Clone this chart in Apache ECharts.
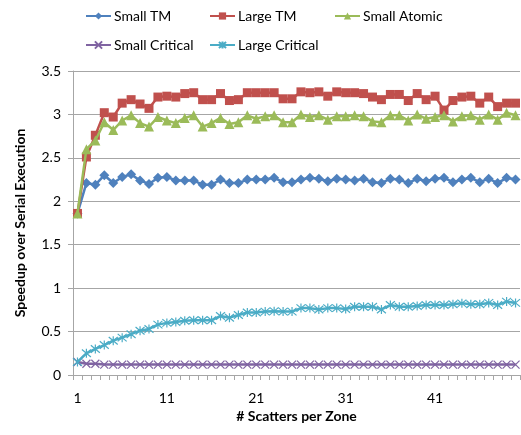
<!DOCTYPE html>
<html>
<head>
<meta charset="utf-8">
<script src="https://cdn.jsdelivr.net/npm/echarts@6/dist/echarts.min.js"></script>
<style>html,body{margin:0;padding:0;background:#fff}#c{width:521px;height:435px}</style>
</head>
<body>
<div id="c"></div>
<script>
var categories = [];
for (var i = 1; i <= 50; i++) categories.push(String(i));

var smallTM = [1.86,2.21,2.19,2.30,2.21,2.28,2.31,2.24,2.20,2.27,2.28,2.24,2.24,2.24,2.19,2.19,2.25,2.21,2.21,2.25,2.25,2.25,2.27,2.22,2.22,2.25,2.27,2.26,2.23,2.26,2.25,2.24,2.26,2.22,2.21,2.26,2.25,2.21,2.26,2.23,2.26,2.27,2.22,2.25,2.27,2.22,2.26,2.21,2.27,2.25];
var largeTM = [1.86,2.51,2.76,3.02,2.97,3.13,3.17,3.12,3.07,3.20,3.21,3.20,3.24,3.25,3.17,3.17,3.24,3.16,3.17,3.25,3.25,3.25,3.25,3.18,3.18,3.26,3.25,3.26,3.21,3.26,3.25,3.25,3.24,3.20,3.17,3.23,3.23,3.16,3.24,3.17,3.21,3.05,3.16,3.20,3.21,3.13,3.20,3.09,3.13,3.13];
var smallAtomic = [1.86,2.60,2.70,2.91,2.82,2.93,2.99,2.90,2.86,2.97,2.93,2.90,2.96,2.99,2.86,2.90,2.96,2.89,2.91,2.99,2.95,2.98,2.99,2.91,2.91,3.00,2.97,2.99,2.94,2.98,2.98,2.99,2.98,2.92,2.91,2.99,2.99,2.93,3.00,2.95,2.97,2.99,2.92,2.98,2.99,2.94,3.00,2.94,3.02,2.99];
var smallCritical = [0.15,0.13,0.13,0.12,0.12,0.12,0.12,0.12,0.12,0.12,0.12,0.12,0.12,0.12,0.12,0.12,0.12,0.12,0.12,0.12,0.12,0.12,0.12,0.12,0.12,0.12,0.12,0.12,0.12,0.12,0.12,0.12,0.12,0.12,0.12,0.12,0.12,0.12,0.12,0.12,0.12,0.12,0.12,0.12,0.12,0.12,0.12,0.12,0.12,0.12];
var largeCritical = [0.15,0.25,0.30,0.345,0.395,0.43,0.47,0.51,0.53,0.58,0.60,0.61,0.625,0.63,0.63,0.63,0.68,0.66,0.69,0.72,0.72,0.73,0.735,0.73,0.73,0.77,0.77,0.755,0.77,0.77,0.76,0.785,0.785,0.785,0.755,0.805,0.785,0.785,0.795,0.805,0.805,0.805,0.815,0.825,0.815,0.815,0.83,0.805,0.845,0.83];

var seriesNames = ['Small TM','Large TM','Small Atomic','Small Critical','Large Critical'];
var colors = ['#4F81BD','#C0504D','#9BBB59','#8064A2','#4BACC6'];

var FONT = 'Lato';
var xPath = 'path://M0,0L10,10M10,0L0,10';
var starPath = 'path://M0,0L10,10M10,0L0,10M5,-1L5,11';

function mk(idx, data, symbol, size, hollow) {
  return {
    name: seriesNames[idx], type: 'line', data: data,
    symbol: symbol, symbolSize: size, showSymbol: true, showAllSymbol: true,
    lineStyle: { color: colors[idx], width: 2.5 },
    itemStyle: hollow ? { color: 'rgba(0,0,0,0)', borderColor: colors[idx], borderWidth: 1.2 } : { color: colors[idx] },
    emphasis: { disabled: true },
    z: 2 + idx
  };
}

var legendPos = [[80, 4], [204, 4], [329, 4], [80, 33], [204, 33]];
var legends = legendPos.map(function (p, i) {
  return {
    data: [seriesNames[i]], left: p[0], top: p[1],
    itemWidth: 25, itemHeight: 9, itemGap: 0,
    textStyle: { fontFamily: FONT, fontSize: 14, color: '#000', padding: [0,0,0,-2] },
    selectedMode: false
  };
});

var chart = echarts.init(document.getElementById('c'));
chart.setOption({
  animation: false,
  color: colors,
  legend: legends,
  grid: { left: 73, right: 1, top: 71, bottom: 60 },
  xAxis: {
    type: 'category', data: categories, boundaryGap: true,
    name: '# Scatters per Zone', nameLocation: 'middle', nameGap: 34,
    nameTextStyle: { fontFamily: FONT, fontSize: 14, fontWeight: 'bold', color: '#000' },
    axisLine: { lineStyle: { color: '#A6A6A6', width: 1 } },
    axisTick: { show: true, interval: 0, length: 5, lineStyle: { color: '#A6A6A6' } },
    axisLabel: { interval: 9, margin: 16, fontFamily: FONT, fontSize: 14, color: '#000' },
    splitLine: { show: false }
  },
  yAxis: {
    type: 'value', min: 0, max: 3.5, interval: 0.5,
    name: 'Speedup over Serial Execution', nameLocation: 'middle', nameGap: 46,
    nameTextStyle: { fontFamily: FONT, fontSize: 14, fontWeight: 'bold', color: '#000' },
    axisLine: { show: true, lineStyle: { color: '#A6A6A6', width: 1 } },
    axisTick: { show: true, length: 5, lineStyle: { color: '#A6A6A6' } },
    axisLabel: { margin: 12, fontFamily: FONT, fontSize: 14, color: '#000' },
    splitLine: { show: true, lineStyle: { color: '#A6A6A6', width: 1 } }
  },
  series: [
    mk(0, smallTM, 'diamond', 10, false),
    mk(1, largeTM, 'rect', 9, false),
    mk(2, smallAtomic, 'triangle', 10, false),
    mk(3, smallCritical, xPath, 8, true),
    mk(4, largeCritical, starPath, 9, true)
  ]
});
</script>
</body>
</html>
